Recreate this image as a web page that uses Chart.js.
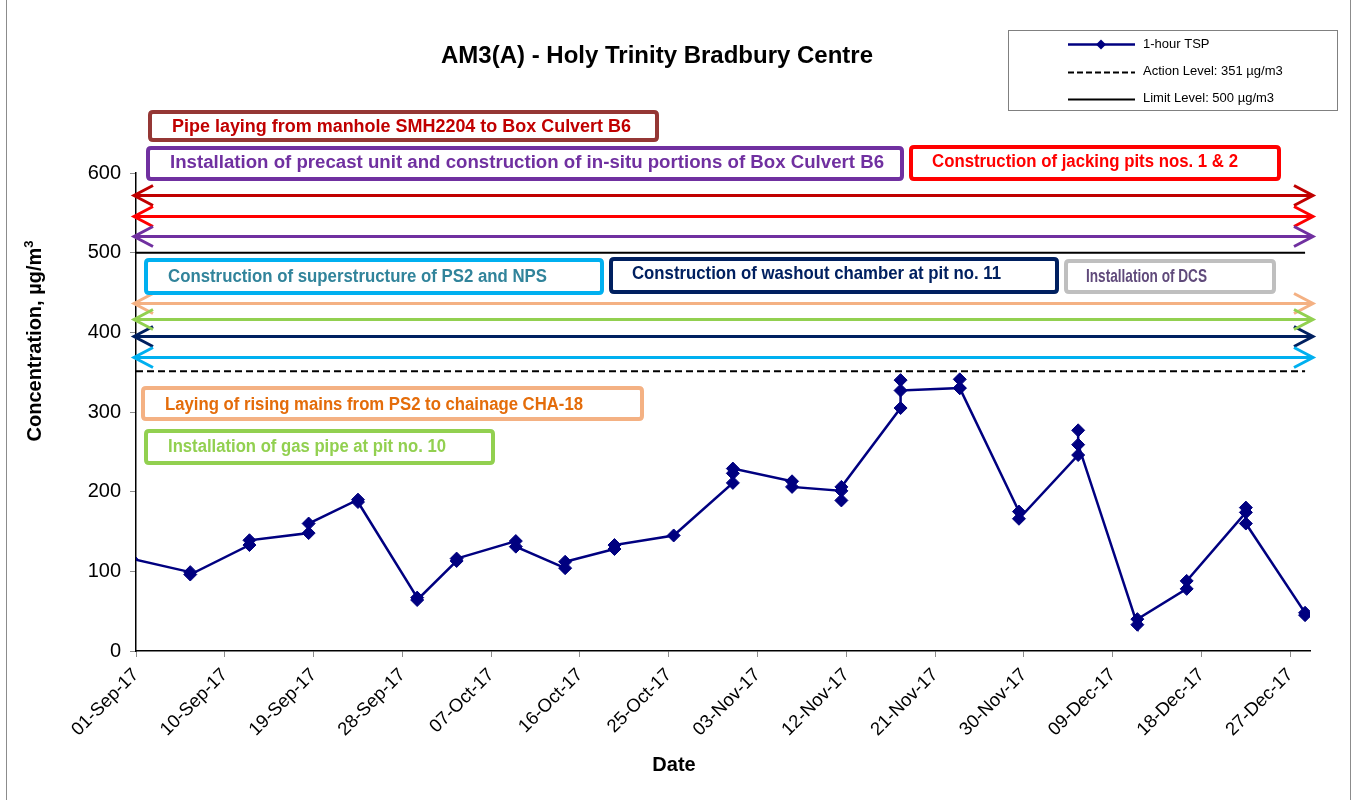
<!DOCTYPE html>
<html><head><meta charset="utf-8">
<script src="https://cdn.jsdelivr.net/npm/chart.js@4.4.1/dist/chart.umd.min.js"></script>
<style>html,body{margin:0;padding:0;background:#fff;}#wrap{width:1356px;height:800px;}canvas{display:block;}</style>
</head><body><div id="wrap"><canvas id="c" width="1356" height="800"></canvas></div>
<script>
// ---------------- data ----------------
const chartTitle = 'AM3(A) - Holy Trinity Bradbury Centre';
const axisStart = '2017-09-01';
const axisDays = 119;
const tickEveryDays = 9;
const sampleDates = ['2017-08-31','2017-09-06','2017-09-12','2017-09-18','2017-09-23','2017-09-29',
  '2017-10-03','2017-10-09','2017-10-14','2017-10-19','2017-10-25','2017-10-31',
  '2017-11-06','2017-11-11','2017-11-17','2017-11-23','2017-11-29','2017-12-05',
  '2017-12-11','2017-12-16','2017-12-22','2017-12-28'];
const tspReadings = [[116],[99,96],[133,139],[148,160],[190,187],[67,64],
  [113,116],[138,131],[104,112],[128,133],[145],[211,223,229],
  [213,206],[201,189,206],[305,340,327],[330,341,330],[175,166],[246,277,259],
  [33,40],[78,88],[174,180,160],[48,45]];
const actionLevel = 351;
const limitLevel = 500;
const legendLabels = ['1-hour TSP','Action Level: 351 \u00b5g/m3','Limit Level: 500 \u00b5g/m3'];
const activityLabels = ['Pipe laying from manhole SMH2204 to Box Culvert B6',
  'Installation of precast unit and construction of in-situ portions of Box Culvert B6',
  'Construction of jacking pits nos. 1 & 2',
  'Construction of superstructure of PS2 and NPS',
  'Construction of washout chamber at pit no. 11',
  'Installation of DCS',
  'Laying of rising mains from PS2 to chainage CHA-18',
  'Installation of gas pipe at pit no. 10'];
// level (in µg/m3 units) at which each activity's period arrow is drawn
const activityArrowLevels = [571.8, 546.2, 520.7, 395.2, 369.3, 436.3, 416.6];

// ---------------- helpers ----------------
const MONTHS = ['Jan','Feb','Mar','Apr','May','Jun','Jul','Aug','Sep','Oct','Nov','Dec'];
function utc(s){const p=s.split('-').map(Number);return Date.UTC(p[0],p[1]-1,p[2]);}
const base = utc(axisStart);
function dayIdx(s){return (utc(s)-base)/86400000;}
function fmtDay(i){const d=new Date(base+i*86400000);return String(d.getUTCDate()).padStart(2,'0')+'-'+MONTHS[d.getUTCMonth()]+'-'+String(d.getUTCFullYear()).slice(2);}

const tspPoints = [];
sampleDates.forEach((s,i)=>{tspReadings[i].forEach(v=>tspPoints.push({x:dayIdx(s)+0.5,y:v}));});
const lastSlot = dayIdx(sampleDates[sampleDates.length-1])+0.5;
const actionPoints = [{x:0,y:actionLevel},{x:lastSlot,y:actionLevel}];
const limitPoints = [{x:0,y:limitLevel},{x:lastSlot,y:limitLevel}];

// ---------------- styling / layout of annotations ----------------
const arrowStyles = [
  {color:'#C00000'},{color:'#FF0000'},{color:'#7030A0'},
  {color:'#002060'},{color:'#00B0F0'},{color:'#F4B183'},{color:'#92D050'}];
const boxLayout = [
  {r:[150,112,657,140], tx:172, ty:127, tw:459, fs:18, border:'#953735', color:'#C00000'},
  {r:[148,148,902,179], tx:170, ty:163, tw:714, fs:18, border:'#7030A0', color:'#7030A0'},
  {r:[911,147,1279,179], tx:932, ty:162, tw:306, fs:18, border:'#FF0000', color:'#FF0000'},
  {r:[146,260,602,293], tx:168, ty:277, tw:379, fs:18, border:'#00B0F0', color:'#31849B'},
  {r:[611,259,1057,292], tx:632, ty:274, tw:369, fs:19, border:'#002060', color:'#002060'},
  {r:[1066,261,1274,292], tx:1086, ty:277, tw:121, fs:18.5, border:'#BFBFBF', color:'#604A7B'},
  {r:[143,388,642,419], tx:165, ty:405, tw:418, fs:18, border:'#F4B183', color:'#E46C0A'},
  {r:[146,431,493,463], tx:168, ty:447, tw:278, fs:18, border:'#92D050', color:'#92D050'}];

function rrect(ctx,x1,y1,x2,y2,r){ctx.beginPath();ctx.moveTo(x1+r,y1);ctx.lineTo(x2-r,y1);ctx.quadraticCurveTo(x2,y1,x2,y1+r);ctx.lineTo(x2,y2-r);ctx.quadraticCurveTo(x2,y2,x2-r,y2);ctx.lineTo(x1+r,y2);ctx.quadraticCurveTo(x1,y2,x1,y2-r);ctx.lineTo(x1,y1+r);ctx.quadraticCurveTo(x1,y1,x1+r,y1);ctx.closePath();}

const FONT = '"Liberation Sans", Arial, Helvetica, sans-serif';

const decor = {
  id:'decor',
  beforeDraw(chart){const c=chart.ctx;c.save();c.fillStyle='#fff';c.fillRect(0,0,chart.width,chart.height);c.restore();},
  afterDraw(chart){
    const ctx=chart.ctx, xs=chart.scales.x, ys=chart.scales.y;
    ctx.save();
    // outer frame
    ctx.strokeStyle='#8c8c8c';ctx.lineWidth=1;
    ctx.beginPath();ctx.moveTo(6.5,0);ctx.lineTo(6.5,800);ctx.moveTo(1350.5,0);ctx.lineTo(1350.5,800);ctx.stroke();
    // title
    ctx.fillStyle='#000';ctx.font='bold 24px '+FONT;ctx.textAlign='center';ctx.textBaseline='middle';
    ctx.fillText(chartTitle,657,56);
    // x title
    ctx.font='bold 20px '+FONT;ctx.fillText('Date',674,765);
    // y title
    ctx.save();ctx.translate(35,341);ctx.rotate(-Math.PI/2);
    const main='Concentration, \u00b5g/m';ctx.font='bold 20px '+FONT;
    const w1=ctx.measureText(main).width;ctx.font='bold 13px '+FONT;const w2=ctx.measureText('3').width;
    const start=-(w1+w2)/2;ctx.textAlign='left';ctx.font='bold 20px '+FONT;ctx.fillText(main,start,0);
    ctx.font='bold 13px '+FONT;ctx.fillText('3',start+w1,-6);
    ctx.restore();
    // arrows
    const xl=xs.left-2, xr=xs.right+3;
    activityArrowLevels.forEach((lv,i)=>{
      const y=Math.round(ys.getPixelForValue(lv))+0.5;
      ctx.strokeStyle=arrowStyles[i].color;ctx.lineWidth=3;ctx.lineCap='butt';ctx.lineJoin='miter';
      ctx.beginPath();ctx.moveTo(xl+2,y);ctx.lineTo(xr-2,y);ctx.stroke();
      ctx.beginPath();ctx.moveTo(xl+19,y-10);ctx.lineTo(xl,y);ctx.lineTo(xl+19,y+10);ctx.stroke();
      ctx.beginPath();ctx.moveTo(xr-19,y-10);ctx.lineTo(xr,y);ctx.lineTo(xr-19,y+10);ctx.stroke();
    });
    // boxes
    activityLabels.forEach((t,i)=>{
      const b=boxLayout[i];const [x1,y1,x2,y2]=b.r;
      rrect(ctx,x1,y1,x2,y2,3);ctx.fillStyle='#fff';ctx.fill();ctx.strokeStyle=b.border;ctx.lineWidth=4;ctx.stroke();
      ctx.font='bold '+b.fs+'px '+FONT;ctx.textAlign='left';ctx.textBaseline='middle';ctx.fillStyle=b.color;
      const mw=ctx.measureText(t).width;
      ctx.save();ctx.translate(b.tx,b.ty);ctx.scale(b.tw/mw,1);ctx.fillText(t,0,0);ctx.restore();
    });
    // legend
    ctx.strokeStyle='#808080';ctx.lineWidth=1;ctx.strokeRect(1008.5,30.5,329,80);
    const rows=[44,71.5,98.5];
    ctx.font='13px '+FONT;ctx.textAlign='left';ctx.textBaseline='middle';
    legendLabels.forEach((t,i)=>{
      const y=Math.round(rows[i])+0.5;ctx.beginPath();ctx.moveTo(1068,y);ctx.lineTo(1135,y);
      if(i===0){ctx.strokeStyle='#000080';ctx.lineWidth=2.5;ctx.setLineDash([]);}
      else if(i===1){ctx.strokeStyle='#000';ctx.lineWidth=2;ctx.setLineDash([6,3]);}
      else {ctx.strokeStyle='#000';ctx.lineWidth=2;ctx.setLineDash([]);}
      ctx.stroke();ctx.setLineDash([]);
      if(i===0){ctx.fillStyle='#000080';ctx.beginPath();ctx.moveTo(1101,y-5);ctx.lineTo(1106,y);ctx.lineTo(1101,y+5);ctx.lineTo(1096,y);ctx.closePath();ctx.fill();}
      ctx.fillStyle='#000';ctx.fillText(t,1143,rows[i]);
    });
    ctx.restore();
  }
};

const tickVals=[];for(let d=0;d<axisDays;d+=tickEveryDays)tickVals.push(d);

new Chart(document.getElementById('c'),{
  type:'line',
  data:{datasets:[
    {label:'Action',data:actionPoints,borderColor:'#000',borderWidth:2,borderDash:[7,4],pointRadius:0,fill:false},
    {label:'Limit',data:limitPoints,borderColor:'#000',borderWidth:2,pointRadius:0,fill:false},
    {label:legendLabels[0],data:tspPoints,borderColor:'#000080',borderWidth:2.5,pointStyle:'rectRot',pointRadius:6.5,
     pointBackgroundColor:'#000080',pointBorderColor:'#000080',pointBorderWidth:1,tension:0,fill:false}
  ]},
  options:{
    responsive:false,animation:false,devicePixelRatio:1,
    layout:{padding:{left:0,top:173,right:46,bottom:0}},
    plugins:{legend:{display:false},title:{display:false},tooltip:{enabled:false}},
    scales:{
      x:{type:'linear',min:0,max:axisDays,
        afterBuildTicks(s){s.ticks=tickVals.map(v=>({value:v}));},
        afterFit(s){s.height=149;},
        ticks:{autoSkip:false,maxRotation:45,minRotation:45,color:'#000',font:{family:FONT,size:18.5},padding:7,
          callback:(v)=>fmtDay(v)},
        grid:{display:true,drawOnChartArea:false,drawTicks:true,tickLength:6,color:'#8c8c8c'},
        border:{display:true,color:'#000',width:1.5}},
      y:{min:0,max:600,
        afterFit(s){s.width=136;},
        ticks:{stepSize:100,color:'#000',font:{family:FONT,size:20},padding:9},
        grid:{display:true,drawOnChartArea:false,drawTicks:true,tickLength:6,color:'#8c8c8c'},
        border:{display:true,color:'#000',width:1.5}}
    }
  },
  plugins:[decor]
});
</script></body></html>
